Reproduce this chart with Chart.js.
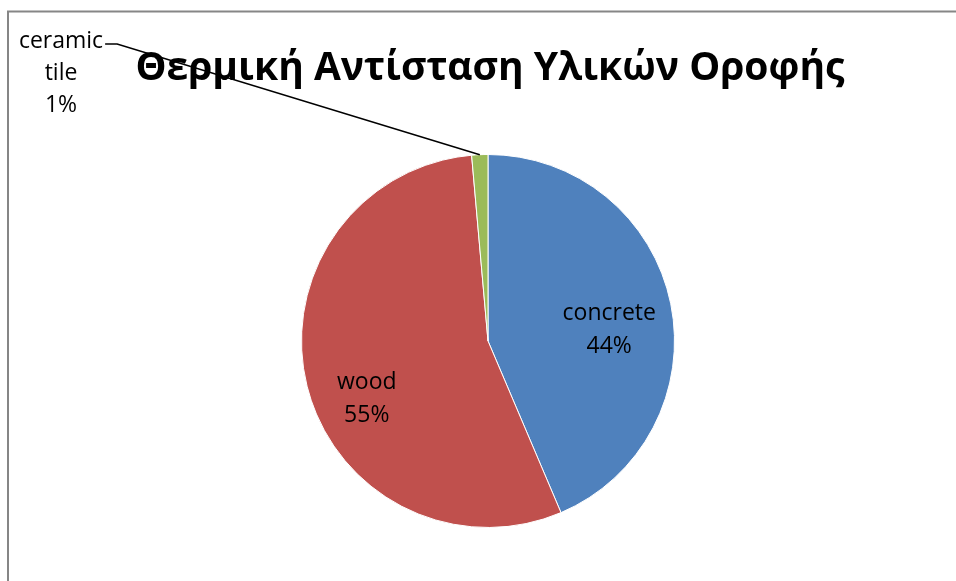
<!DOCTYPE html>
<html>
<head>
<meta charset="utf-8">
<script src="https://cdn.jsdelivr.net/npm/chart.js@4/dist/chart.umd.min.js"></script>
<style>
  html, body { margin: 0; padding: 0; background: #fff; }
  #wrap { width: 956px; height: 581px; position: relative; }
</style>
</head>
<body>
<div id="wrap"><canvas id="roofChart" width="956" height="581"></canvas></div>
<script>
// Θερμική αντίσταση ανά υλικό οροφής (μερίδιο %)
const materials = ['concrete', 'wood', 'ceramic tile'];
const resistance = [43.6, 55.0, 1.4];
const sliceColors = ['#4F81BD', '#C0504D', '#9BBB59'];

const chartTitle = 'Θερμική Αντίσταση Υλικών Οροφής';
const FONT = '"Open Sans", "Noto Sans", sans-serif';

// label placement: inside labels sit along the slice at a fraction of the radius,
// the small slice gets an outside label with a leader line
const insideLabel = {
    0: { rx: 0.65, ry: -0.06 },
    1: { rx: -0.65, ry: 0.31 }
};
const outsideLabel = { 2: { x: 61, y: 41 } };

const total = resistance.reduce((a, b) => a + b, 0);

const decorations = {
    id: 'decorations',
    beforeDraw(chart) {
        const ctx = chart.ctx;
        ctx.save();
        ctx.fillStyle = '#fff';
        ctx.fillRect(0, 0, chart.width, chart.height);
        // outer frame
        ctx.strokeStyle = '#868686';
        ctx.lineWidth = 2;
        ctx.beginPath();
        ctx.moveTo(8, chart.height + 2);
        ctx.lineTo(8, 11.5);
        ctx.lineTo(chart.width + 2, 11.5);
        ctx.stroke();
        ctx.restore();
    },
    afterDatasetsDraw(chart) {
        const ctx = chart.ctx;
        const arcs = chart.getDatasetMeta(0).data;
        ctx.save();
        ctx.fillStyle = '#000';
        ctx.textAlign = 'center';
        ctx.textBaseline = 'middle';
        ctx.font = '23px ' + FONT;

        arcs.forEach((arc, i) => {
            const pct = Math.round(resistance[i] / total * 100) + '%';
            const r = arc.outerRadius;
            if (insideLabel[i]) {
                const p = insideLabel[i];
                const x = arc.x + p.rx * r;
                const y = arc.y + p.ry * r;
                ctx.fillText(materials[i], x, y - 16);
                ctx.fillText(pct, x, y + 17);
            } else if (outsideLabel[i]) {
                const p = outsideLabel[i];
                const words = materials[i].split(' ');
                const lines = words.concat([pct]);
                lines.forEach((t, k) => ctx.fillText(t, p.x, p.y + k * 32));
                // leader line to the middle of the slice edge
                const mid = (arc.startAngle + arc.endAngle) / 2;
                const ex = arc.x + Math.cos(mid) * r;
                const ey = arc.y + Math.sin(mid) * r;
                const w = ctx.measureText(words[0]).width;
                ctx.strokeStyle = '#000';
                ctx.lineWidth = 1.5;
                ctx.beginPath();
                ctx.moveTo(p.x + w / 2 + 2, p.y + 3);
                ctx.lineTo(p.x + w / 2 + 14, p.y + 3);
                ctx.lineTo(ex, ey);
                ctx.stroke();
            }
        });

        // title
        ctx.font = 'bold 39px ' + FONT;
        ctx.textBaseline = 'alphabetic';
        ctx.fillText(chartTitle, 490, 80);
        ctx.restore();
    }
};

new Chart(document.getElementById('roofChart'), {
    type: 'pie',
    data: {
        labels: materials,
        datasets: [{
            data: resistance,
            backgroundColor: sliceColors,
            borderColor: '#fff',
            borderWidth: 1
        }]
    },
    options: {
        responsive: false,
        animation: false,
        layout: { padding: { top: 154, bottom: 53, left: 301, right: 281 } },
        plugins: {
            legend: { display: false },
            title: { display: false },
            tooltip: { enabled: false }
        }
    },
    plugins: [decorations]
});
</script>
</body>
</html>
